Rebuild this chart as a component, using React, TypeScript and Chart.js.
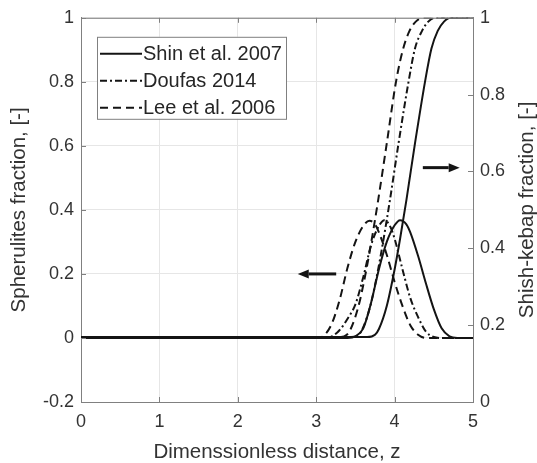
import React, { useEffect, useRef } from "react";
import { Chart, registerables } from "chart.js";

Chart.register(...registerables);

// ---- data ----
const xTicks = [0, 1, 2, 3, 4, 5];
const leftTicks = [-0.2, 0, 0.2, 0.4, 0.6, 0.8, 1];
const rightTicks = [0, 0.2, 0.4, 0.6, 0.8, 1];

const seriesNames = ["Shin et al. 2007", "Doufas 2014", "Lee et al. 2006"];

// Spherulites fraction (left axis)
const shinBellZ = [0, 3.4, 3.5, 3.6, 3.7, 3.8, 3.9, 4.0, 4.07, 4.15, 4.2, 4.3, 4.4, 4.5, 4.6, 4.7, 4.8, 5];
const shinBellV = [0, 0, 0.005, 0.03, 0.11, 0.215, 0.3, 0.352, 0.368, 0.355, 0.33, 0.256, 0.17, 0.09, 0.03, 0.005, 0, 0];

const doufasBellZ = [0, 3.1, 3.2, 3.3, 3.4, 3.5, 3.6, 3.7, 3.8, 3.87, 3.95, 4.0, 4.1, 4.2, 4.3, 4.4, 4.5, 4.6, 5];
const doufasBellV = [0, 0, 0.005, 0.025, 0.06, 0.105, 0.19, 0.29, 0.35, 0.368, 0.345, 0.31, 0.215, 0.125, 0.065, 0.02, 0.003, 0, 0];

const leeBellZ = [0, 3.0, 3.1, 3.2, 3.3, 3.4, 3.5, 3.6, 3.68, 3.75, 3.8, 3.9, 4.0, 4.1, 4.2, 4.3, 4.4, 5];
const leeBellV = [0, 0, 0.008, 0.045, 0.12, 0.22, 0.3, 0.35, 0.366, 0.355, 0.33, 0.26, 0.175, 0.1, 0.04, 0.01, 0, 0];

// Shish-kebap fraction (right axis)
const shinSigZ = [0, 3.65, 3.75, 3.8, 3.9, 4.0, 4.07, 4.15, 4.26, 4.39, 4.47, 4.55, 4.63, 4.71, 5];
const shinSigV = [0.169, 0.169, 0.175, 0.19, 0.25, 0.345, 0.425, 0.525, 0.673, 0.836, 0.92, 0.966, 0.99, 1, 1];

const doufasSigZ = [0, 3.44, 3.54, 3.59, 3.69, 3.79, 3.86, 3.94, 4.05, 4.18, 4.26, 4.35, 4.43, 4.52, 5];
const doufasSigV = [0.169, 0.169, 0.175, 0.19, 0.25, 0.345, 0.425, 0.525, 0.673, 0.836, 0.92, 0.966, 0.99, 1, 1];

const leeSigZ = [0, 3.29, 3.39, 3.44, 3.54, 3.64, 3.71, 3.79, 3.9, 4.02, 4.11, 4.19, 4.27, 4.36, 5];
const leeSigV = [0.169, 0.169, 0.175, 0.19, 0.25, 0.345, 0.425, 0.525, 0.673, 0.836, 0.92, 0.966, 0.99, 1, 1];

// annotation arrows (data coordinates): [tailZ, tipZ, value]
const leftArrow = [3.255, 2.765, 0.2]; // on left axis
const rightArrow = [4.36, 4.83, 0.61]; // on right axis

// ---- styles ----
const FONT = "'Liberation Sans', Arial, sans-serif";
const TEXT = "#333333";
const AXIS = "#808080";
const GRID = "#e6e6e6";
const LINE = "#141414";
const dashes: number[][] = [[], [7, 3, 2, 3], [8, 5]];

const pts = (zs: number[], vs: number[]) => zs.map((z, i) => ({ x: z, y: vs[i] }));
const fmt = (v: any) => {
  const n = Math.round(Number(v) * 10) / 10;
  return n === 0 ? "0" : String(n);
};

function drawArrow(ctx: CanvasRenderingContext2D, x1: number, y1: number, x2: number, y2: number) {
  const dir = Math.sign(x2 - x1);
  const head = 11;
  ctx.strokeStyle = LINE;
  ctx.fillStyle = LINE;
  ctx.lineWidth = 3;
  ctx.setLineDash([]);
  ctx.beginPath();
  ctx.moveTo(x1, y1);
  ctx.lineTo(x2 - dir * head, y2);
  ctx.stroke();
  ctx.beginPath();
  ctx.moveTo(x2, y2);
  ctx.lineTo(x2 - dir * head, y2 - 4.5);
  ctx.lineTo(x2 - dir * head, y2 + 4.5);
  ctx.closePath();
  ctx.fill();
}

const decor = {
  id: "decor",
  afterDraw(chart: any) {
    const { ctx, chartArea: a, scales } = chart;
    const sx = scales.x, sy = scales.y, sy2 = scales.y2;
    ctx.save();
    // top border
    ctx.strokeStyle = AXIS;
    ctx.lineWidth = 1;
    ctx.setLineDash([]);
    ctx.beginPath();
    ctx.moveTo(a.left, a.top + 0.5);
    ctx.lineTo(a.right, a.top + 0.5);
    ctx.stroke();
    // inward ticks
    const tl = 5;
    ctx.beginPath();
    xTicks.forEach((t) => {
      const px = Math.round(sx.getPixelForValue(t)) + 0.5;
      ctx.moveTo(px, a.bottom);
      ctx.lineTo(px, a.bottom - tl);
      ctx.moveTo(px, a.top);
      ctx.lineTo(px, a.top + tl);
    });
    leftTicks.forEach((t) => {
      const py = Math.round(sy.getPixelForValue(t)) + 0.5;
      ctx.moveTo(a.left, py);
      ctx.lineTo(a.left + tl, py);
    });
    rightTicks.forEach((t) => {
      const py = Math.round(sy2.getPixelForValue(t)) + 0.5;
      ctx.moveTo(a.right, py);
      ctx.lineTo(a.right - tl, py);
    });
    ctx.stroke();

    // arrows
    drawArrow(
      ctx,
      sx.getPixelForValue(leftArrow[0]),
      sy.getPixelForValue(leftArrow[2]),
      sx.getPixelForValue(leftArrow[1]),
      sy.getPixelForValue(leftArrow[2])
    );
    drawArrow(
      ctx,
      sx.getPixelForValue(rightArrow[0]),
      sy2.getPixelForValue(rightArrow[2]),
      sx.getPixelForValue(rightArrow[1]),
      sy2.getPixelForValue(rightArrow[2])
    );

    // legend box
    const lx = a.left + 16, ly = a.top + 19, lw = 189, lh = 82;
    ctx.fillStyle = "#ffffff";
    ctx.fillRect(lx, ly, lw, lh);
    ctx.strokeStyle = AXIS;
    ctx.lineWidth = 1;
    ctx.strokeRect(lx + 0.5, ly + 0.5, lw, lh);
    ctx.font = `20px ${FONT}`;
    ctx.textBaseline = "middle";
    ctx.textAlign = "left";
    seriesNames.forEach((name, i) => {
      const yy = ly + 17 + i * 27;
      ctx.strokeStyle = LINE;
      ctx.lineWidth = 2;
      ctx.setLineDash(dashes[i]);
      ctx.beginPath();
      ctx.moveTo(lx + 3, yy);
      ctx.lineTo(lx + 45, yy);
      ctx.stroke();
      ctx.setLineDash([]);
      ctx.fillStyle = "#262626";
      ctx.fillText(name, lx + 46, yy + 1);
    });

    // right axis title (reads bottom to top)
    ctx.save();
    ctx.translate(527, (a.top + a.bottom) / 2);
    ctx.rotate(-Math.PI / 2);
    ctx.font = `20.5px ${FONT}`;
    ctx.fillStyle = TEXT;
    ctx.textAlign = "center";
    ctx.textBaseline = "middle";
    ctx.fillText("Shish-kebap fraction, [-]", 0, 0);
    ctx.restore();

    ctx.restore();
  },
};

export default function App() {
  const ref = useRef<HTMLCanvasElement | null>(null);
  useEffect(() => {
    if (!ref.current) return;
    const mk = (label: string, zs: number[], vs: number[], axis: string, i: number) => ({
      label,
      data: pts(zs, vs),
      yAxisID: axis,
      borderColor: LINE,
      borderWidth: 2,
      borderDash: dashes[i],
      pointRadius: 0,
      fill: false,
      cubicInterpolationMode: "monotone" as const,
    });
    const chart = new Chart(ref.current, {
      type: "line",
      data: {
        datasets: [
          mk(seriesNames[0], shinBellZ, shinBellV, "y", 0),
          mk(seriesNames[1], doufasBellZ, doufasBellV, "y", 1),
          mk(seriesNames[2], leeBellZ, leeBellV, "y", 2),
          mk(seriesNames[0], shinSigZ, shinSigV, "y2", 0),
          mk(seriesNames[1], doufasSigZ, doufasSigV, "y2", 1),
          mk(seriesNames[2], leeSigZ, leeSigV, "y2", 2),
        ],
      },
      options: {
        animation: false,
        responsive: true,
        maintainAspectRatio: false,
        layout: { padding: { top: 17, left: 0, right: 0, bottom: 0 } },
        plugins: { legend: { display: false }, tooltip: { enabled: false } },
        scales: {
          x: {
            type: "linear",
            min: 0,
            max: 5,
            ticks: { stepSize: 1, color: TEXT, font: { family: FONT, size: 18 }, padding: 9, callback: fmt },
            grid: { color: GRID, drawTicks: false },
            border: { color: AXIS },
            title: {
              display: true,
              text: "Dimenssionless distance, z",
              color: TEXT,
              font: { family: FONT, size: 20.5, lineHeight: 1 },
              padding: { top: 0, bottom: 0 },
            },
            afterFit: (s: any) => {
              s.height = 61;
            },
          },
          y: {
            type: "linear",
            position: "left",
            min: -0.2,
            max: 1,
            ticks: { stepSize: 0.2, color: TEXT, font: { family: FONT, size: 18 }, padding: 7, callback: fmt },
            grid: { color: GRID, drawTicks: false },
            border: { color: AXIS },
            title: {
              display: true,
              text: "Spherulites fraction, [-]",
              color: TEXT,
              font: { family: FONT, size: 20.5, lineHeight: 1 },
              padding: { top: 9, bottom: 0 },
            },
            afterFit: (s: any) => {
              s.width = 81;
            },
          },
          y2: {
            type: "linear",
            position: "right",
            min: 0,
            max: 1,
            ticks: { stepSize: 0.2, color: TEXT, font: { family: FONT, size: 18 }, padding: 7, callback: fmt },
            grid: { drawOnChartArea: false, drawTicks: false },
            border: { color: AXIS },
            afterFit: (s: any) => {
              s.width = 64;
            },
          },
        },
      },
      plugins: [decor],
    });
    return () => chart.destroy();
  }, []);
  return (
    <div style={{ position: "absolute", left: 0, top: 0, width: 537, height: 463, background: "#fff" }}>
      <canvas ref={ref} />
    </div>
  );
}
